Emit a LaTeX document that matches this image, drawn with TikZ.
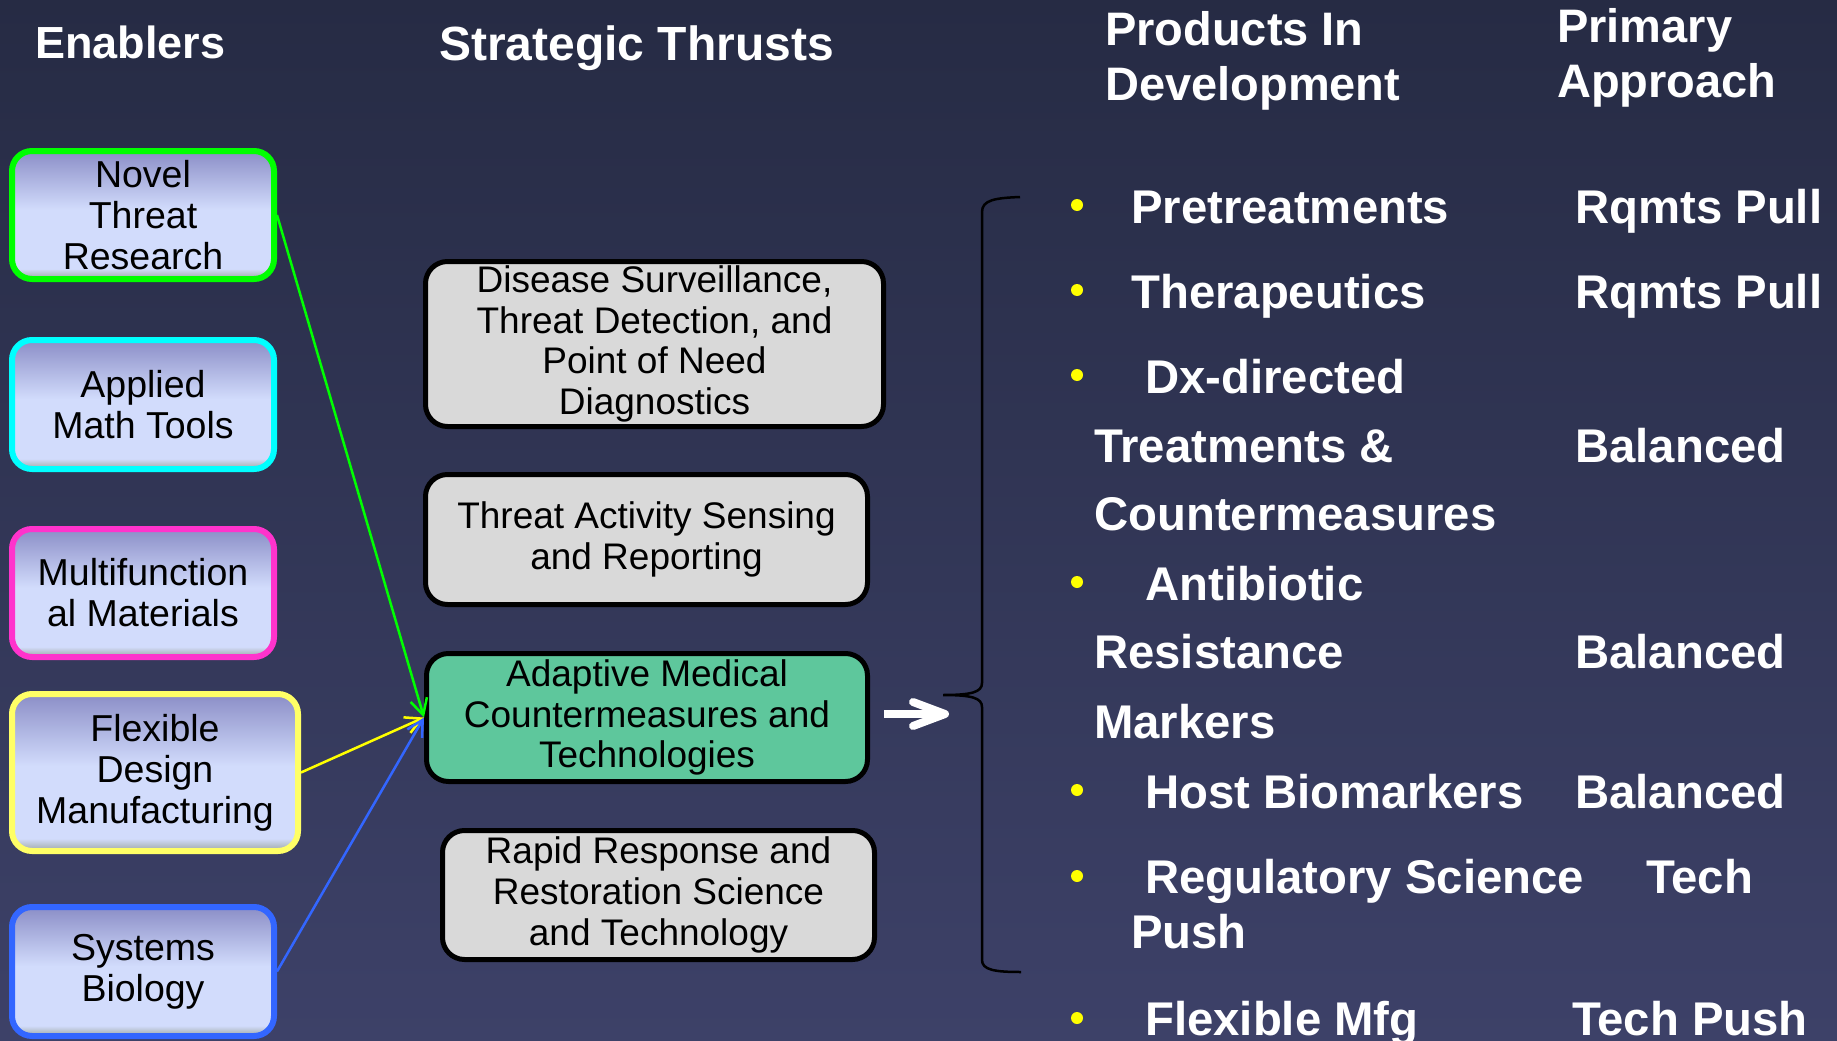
\documentclass[tikz,border=0pt]{standalone}
\usepackage{fontspec}
\setmainfont{Liberation Sans}
\usetikzlibrary{arrows.meta}
\definecolor{bgtop}{HTML}{262B44}
\definecolor{bgmid}{HTML}{353A5E}
\definecolor{bgbot}{HTML}{3D4168}
\definecolor{entop}{HTML}{8B8EC7}
\definecolor{enlight}{HTML}{D2DCFC}
\definecolor{enbot}{HTML}{9EA7A2}
\definecolor{thrustgray}{HTML}{D9D9D9}
\definecolor{thrustgreen}{HTML}{5EC79C}
\definecolor{bdgreen}{HTML}{00FF00}
\definecolor{bdcyan}{HTML}{00FFFF}
\definecolor{bdpink}{HTML}{FF33CC}
\definecolor{bdyellow}{HTML}{FFFF66}
\definecolor{bdblue}{HTML}{3366FF}
\definecolor{lnyellow}{HTML}{FFFF00}
\definecolor{bulyellow}{HTML}{FFFF00}
\pgfdeclareverticalshading{enabshade}{100bp}{color(0bp)=(enbot); color(25bp)=(enbot); color(29bp)=(enlight); color(52bp)=(enlight); color(75bp)=(entop); color(100bp)=(entop)}
\tikzset{
  enab/.style={shading=enabshade, draw, rounded corners=20pt, line width=6pt, align=center,
    font=\fontsize{37.5}{41}\selectfont, inner sep=0pt, text=black},
  thrust/.style={fill=thrustgray, draw=black, rounded corners=22pt, line width=5pt, align=center,
    font=\fontsize{37}{40.6}\selectfont, inner sep=0pt, text=black},
  hdr/.style={text=white, font=\fontsize{47}{55}\selectfont\bfseries, anchor=base west, inner sep=0pt, align=left},
  item/.style={text=white, font=\fontsize{47.3}{56}\selectfont\bfseries, anchor=base west, inner sep=0pt},
  bul/.style={circle, fill=bulyellow, inner sep=0pt, minimum size=12pt},
  conn/.style={line width=2.5pt, -{Straight Barb[length=16pt,width=17pt]}},
}
\begin{document}
\begin{tikzpicture}[x=1pt,y=-1pt]
\useasboundingbox (0,0) rectangle (1837,1041);
\shade[top color=bgtop, middle color=bgmid, bottom color=bgbot] (0,0) rectangle (1837,1041);

% headers (base anchor = baseline of the last line)
\node[hdr, font=\fontsize{45}{55}\selectfont\bfseries] (hEn) at (35,59) {Enablers};
\node[hdr, font=\fontsize{48}{55}\selectfont\bfseries] (hST) at (439,60) {Strategic Thrusts};
\node[hdr] (hPD) at (1105,100) {Products In\\Development};
\node[hdr] (hPA) at (1557,98) {Primary\\Approach};

% enablers
\node[enab, draw=bdgreen, minimum width=262pt, minimum height=128pt] (novel) at (143,215) {Novel\\Threat\\Research};
\node[enab, draw=bdcyan, minimum width=262pt, minimum height=129pt] (math) at (143,404.5) {Applied\\Math Tools};
\node[enab, draw=bdpink, minimum width=262pt, minimum height=128pt] (multi) at (143,593) {Multifunction\\al Materials};
\node[enab, draw=bdyellow, minimum width=286pt, minimum height=157pt] (flex) at (155,772.5) {Flexible\\Design\\Manufacturing};
\node[enab, draw=bdblue, minimum width=262pt, minimum height=129pt] (sysbio) at (143,971.5) {Systems\\Biology};

% strategic thrusts
\node[thrust, minimum width=458pt, minimum height=165pt] (disease) at (654.5,344) {Disease Surveillance,\\Threat Detection, and\\Point of Need\\Diagnostics};
\node[thrust, minimum width=442pt, minimum height=130pt] (activity) at (646.5,539.5) {Threat Activity Sensing\\and Reporting};
\node[thrust, fill=thrustgreen, minimum width=441pt, minimum height=128pt] (adapt) at (647,717.5) {Adaptive Medical\\Countermeasures and\\Technologies};
\node[thrust, minimum width=432pt, minimum height=129pt] (rapid) at (658.5,895) {Rapid Response and\\Restoration Science\\and Technology};

% connectors
\draw[conn, draw=bdgreen] (novel.east) -- (adapt.west);
\draw[conn, draw=lnyellow] (flex.east) -- (adapt.west);
\draw[conn, draw=bdblue] (sysbio.east) -- (adapt.west);

% white arrow
\coordinate (wa0) at (884,714);
\coordinate (wa1) at (940,714);
\coordinate (wtip) at (945,714);
\coordinate (wu) at (913,702);
\coordinate (wd) at (913,726);
\draw[white, line width=8pt] (wa0) -- (wa1);
\draw[white, line width=8pt, line cap=round, line join=round] (wu) -- (wtip) -- (wd);

% brace
\draw[black, line width=2.5pt] (1020,197) .. controls (995,198) and (982,200) .. (982,212)
  -- (982,683) .. controls (982,692) and (972,695) .. (943,695)
  .. controls (972,695) and (982,698) .. (982,707)
  -- (982,960) .. controls (982,970) and (995,972) .. (1021,972);

% products and approaches
\node[bul] (b1) at (1077,205) {};
\node[item] (p1) at (1131,223) {Pretreatments};
\node[item] (a1) at (1575,223) {Rqmts Pull};
\node[bul] (b2) at (1077,290) {};
\node[item] (p2) at (1131,308) {Therapeutics};
\node[item] (a2) at (1575,308) {Rqmts Pull};
\node[bul] (b3) at (1077,375) {};
\node[item] (p3) at (1145,393) {Dx-directed};
\node[item] (p3b) at (1094,462) {Treatments \&};
\node[item] (a3) at (1575,462) {Balanced};
\node[item] (p3c) at (1094,530) {Countermeasures};
\node[bul] (b4) at (1077,582) {};
\node[item] (p4) at (1145,600) {Antibiotic};
\node[item] (p4b) at (1094,668) {Resistance};
\node[item] (a4) at (1575,668) {Balanced};
\node[item] (p4c) at (1094,738) {Markers};
\node[bul] (b5) at (1077,790) {};
\node[item] (p5) at (1145,808) {Host Biomarkers};
\node[item] (a5) at (1575,808) {Balanced};
\node[bul] (b6) at (1077,876) {};
\node[item] (p6) at (1145,893) {Regulatory Science};
\node[item] (a6) at (1646,893) {Tech};
\node[item] (p6b) at (1131,948) {Push};
\node[bul] (b7) at (1077,1018) {};
\node[item] (p7) at (1145,1035) {Flexible Mfg};
\node[item] (a7) at (1572,1035) {Tech Push};
\end{tikzpicture}
\end{document}
